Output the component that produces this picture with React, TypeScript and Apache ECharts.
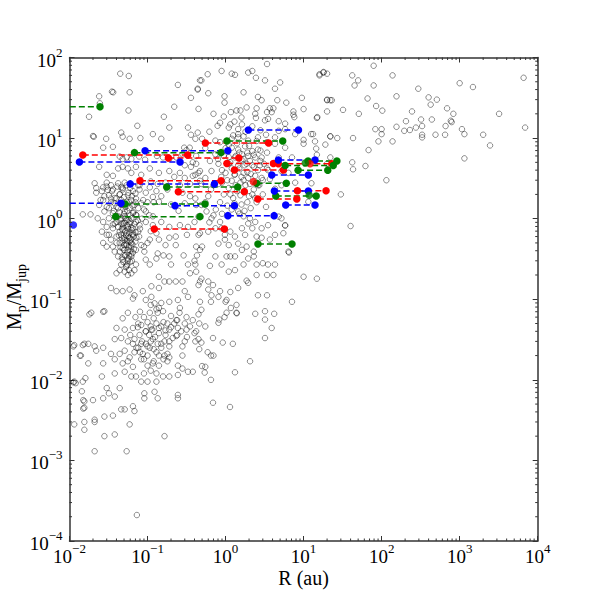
import React, { useEffect, useRef } from "react";
import * as echarts from "echarts";

// Gray background sample: [R (au), Mp/Mjup]
const grayPoints: number[][] = [
  [0.0447,63],[0.0575,59],[0.0363,37],[0.059,37],[0.024,33],[0.0245,27],[0.057,22],[0.0178,18.4],[0.074,14.2],[0.162,18.4],
  [0.046,11.7],[0.0205,10.4],[0.0295,9.8],[0.048,10.4],[0.059,9.8],[0.081,10],[0.117,11.2],[0.15,9.8],[0.19,13.5],[0.22,24.5],
  [0.245,45.7],[0.44,40],[0.36,31.6],[0.33,13.5],[0.44,11.7],[0.36,11],[0.47,52],[0.027,7.6],[0.036,7.8],[0.295,7.6],
  [0.316,7.1],[0.044,5.9],[0.048,5.5],[0.054,5.75],[0.078,5.9],[0.062,5.5],[0.093,5.4],[0.132,6.0],[0.158,5.75],[0.19,5.5],
  [0.234,5.75],[0.347,7.6],[0.28,6.3],[0.024,4.4],[0.030,3.5],[0.036,3.4],[0.042,4.2],[0.048,4.4],[0.056,4.2],[0.071,4.4],
  [0.062,3.7],[0.083,3.5],[0.107,4.2],[0.14,3.7],[0.19,3.9],[0.26,3.7],[0.30,4.6],[0.36,4.4],[0.42,4.8],[0.47,3.9],
  [0.38,3.4],[0.021,2.75],[0.027,2.45],[0.034,2.6],[0.042,2.75],[0.051,2.8],[0.046,2.45],[0.079,2.6],[0.107,2.45],[0.135,2.7],
  [0.17,2.8],[0.26,2.6],[0.35,2.7],[0.47,2.95],[0.020,10.6],[0.035,37.7],
  [0.89,68],[1.2,63],[1.32,61],[1.95,65],[2.2,68],[2.45,56],[3.4,83],[3.2,52],[5.0,49],[0.49,52],
  [0.59,62],[0.44,41],[0.60,36],[0.97,33],[1.7,37],[4.3,41],[9.5,31.6],[16,62],[18,65],[20,29.5],
  [23,29.5],[0.97,27.5],[1.38,22],[1.55,22],[1.17,21],[1.86,24],[2.6,32.4],[2.9,29.5],[4.6,29.5],[2.5,23.4],
  [3.7,23.4],[4.1,23.4],[3.4,21],[3.9,21],[2.4,20],[2.45,17.8],[3.2,16.6],[3.5,17.3],[4.8,16.2],[7.4,21.4],
  [7.6,18.2],[10,22.9],[14.8,17.8],[5.8,15.1],[0.45,23],[0.85,15.5],[0.79,14.2],[1.1,13.5],[1.15,14.8],[1.45,12.9],
  [1.62,14.8],[1.45,11.2],[4.8,12.3],[5.8,12.9],[7.8,11.2],[12.5,11.2],[22,10.5],[0.41,9.8],[0.50,9.8],[0.74,9.3],
  [1.2,9.8],[1.45,10.2],[1.95,9.3],[2.6,10.2],[3.4,8.9],[4.3,10.2],[4.3,8.5],[10,8.5],[19,8.3],[1.2,7.6],
  [1.45,7.2],[1.78,7.9],[2.2,6.9],[2.6,7.2],[1.62,6.3],[1.95,6.0],[1.32,5.75],[1.7,5.5],[2.05,5.2],[2.4,5.75],
  [2.9,5.75],[3.4,6.6],[1.1,4.8],[1.45,4.6],[1.86,4.8],[2.3,4.4],[2.75,4.6],[3.4,4.2],[1.0,3.7],[1.32,3.55],
  [1.7,3.7],[1.95,3.2],[2.4,3.4],[2.9,3.2],[3.7,3.1],[1.2,2.95],[1.55,2.8],[2.05,2.7],[2.6,2.6],[0.74,6.3],
  [0.81,4.8],[0.66,3.9],[0.55,3.2],[0.45,3.7],[0.49,2.7],[0.81,2.7],[0.63,5.2],[0.85,8.9],[0.41,3.5],[5.2,3.9],
  [6.4,3.7],[7.1,5.75],[4.8,5.75],[5.8,7.6],[5.2,2.6],[7.8,2.8],[4.3,2.35],[20,4.8],[22,5.75],
  [0.0186,1.13],[0.0148,1.13],[0.022,2.4],[0.026,2.2],[0.030,2.5],[0.032,1.95],[0.027,1.7],[0.024,1.48],[0.036,2.3],[0.040,1.78],
  [0.044,2.0],[0.048,2.4],[0.056,1.95],[0.065,2.2],[0.071,1.78],[0.079,2.3],[0.032,1.35],[0.028,1.23],[0.036,1.17],[0.042,1.35],
  [0.048,1.48],[0.051,1.23],[0.059,1.35],[0.065,1.17],[0.076,1.35],[0.083,1.55],[0.032,1.01],[0.040,0.91],[0.046,1.01],[0.054,0.96],
  [0.062,1.01],[0.071,0.91],[0.030,0.79],[0.036,0.76],[0.042,0.79],[0.048,0.72],[0.056,0.79],[0.065,0.76],[0.076,0.69],[0.032,0.63],
  [0.040,0.60],[0.046,0.63],[0.051,0.55],[0.059,0.58],[0.044,0.50],[0.054,0.47],[0.062,0.50],[0.048,0.43],[0.027,0.50],[0.030,0.45],
  [0.036,0.45],[0.042,0.34],[0.048,0.31],[0.056,0.30],[0.046,0.27],[0.054,0.26],[0.040,0.21],[0.062,0.21],[0.071,0.41],[0.083,0.47],
  [0.091,0.39],[0.107,0.55],[0.095,0.31],[0.071,0.27],[0.107,0.27],[0.117,0.83],[0.13,0.66],[0.14,0.55],[0.135,0.37],[0.13,0.32],
  [0.16,0.35],[0.17,0.47],[0.19,0.34],[0.20,0.27],[0.23,0.47],[0.29,0.35],[0.33,0.27],[0.42,0.45],[0.40,0.30],[0.42,0.22],
  [0.14,0.19],[0.165,0.166],[0.19,0.166],[0.23,0.166],[0.28,0.166],[0.35,0.21],[0.30,0.126],[0.47,0.166],[0.14,0.138],[0.112,0.145],
  [0.034,0.138],[0.040,0.126],[0.048,0.126],[0.059,0.132],[0.068,0.112],[0.087,0.126],[0.065,0.102],[0.095,0.098],[0.112,0.107],[0.123,0.089],
  [0.14,0.078],[0.19,0.093],[0.245,0.098],[0.33,0.107],[0.26,0.078],[0.019,0.068],[0.028,0.071],[0.056,0.068],[0.107,0.068],[0.42,1.48],
  [0.117,1.86],[0.14,1.62],[0.095,1.23],[0.117,1.07],[0.095,0.91],[0.15,0.91],[0.19,0.79],[0.26,0.83],[0.33,0.79],[0.40,0.91],
  [0.23,0.60],[0.32,0.63],[0.45,0.63],[0.19,0.58],
  [0.031,2.27],[0.038,1.55],[0.046,1.7],[0.054,1.62],[0.034,1.78],[0.042,1.07],[0.048,0.87],[0.059,0.87],[0.044,0.69],[0.054,0.66],
  [0.065,0.63],[0.040,0.50],[0.056,0.41],[0.051,0.35],[0.044,0.39],[0.062,0.34],[0.038,0.39],[0.034,0.55],[0.030,0.63],[0.026,0.69],
  [0.027,0.91],[0.023,1.01],[0.068,1.48],[0.062,1.7],[0.051,1.07],[0.038,0.87],[0.071,1.12],[0.079,0.83],[0.051,0.22],[0.044,0.23],
  [0.056,0.20],[0.068,0.23],
  [0.045,0.95],[0.05,0.88],[0.055,0.82],[0.06,0.92],[0.047,0.75],[0.052,0.70],[0.058,0.66],[0.063,0.72],[0.043,0.62],[0.05,0.58],
  [0.056,0.6],[0.061,0.55],[0.066,0.6],[0.048,0.52],[0.053,0.49],[0.058,0.45],[0.064,0.48],[0.07,0.52],[0.045,0.44],[0.05,0.41],
  [0.055,0.38],[0.06,0.40],[0.067,0.42],[0.052,0.35],[0.057,0.32],[0.062,0.36],[0.049,0.29],[0.055,0.27],[0.06,0.29],[0.053,0.25],
  [0.058,0.23],[0.044,1.2],[0.05,1.15],[0.055,1.25],[0.06,1.1],[0.066,1.2],[0.072,1.1],[0.04,1.4],[0.046,1.5],[0.052,1.4],
  [0.058,1.6],[0.064,1.45],[0.07,1.6],[0.038,1.8],[0.044,2.0],[0.05,1.85],[0.057,2.1],[0.063,1.9],[0.07,2.05],[0.035,2.2],
  [0.041,2.5],[0.048,2.3],[0.054,2.6],[0.06,2.4],[0.076,2.6],[0.034,1.6],[0.037,1.25],[0.04,1.05],[0.036,0.85],[0.075,0.95],
  [0.08,0.75],[0.078,0.6],[0.085,1.0],[0.09,1.3],[0.088,1.7],[0.095,2.1],[0.1,1.6],[0.105,1.1],[0.11,0.7],[0.1,0.5],
  [0.09,0.45],[0.028,1.9],[0.03,1.4],[0.025,1.7],[0.03,2.8],[0.022,2.1],
  [0.048,0.058],[0.076,0.050],[0.083,0.048],[0.135,0.068],[0.158,0.071],[0.234,0.055],[0.257,0.068],[0.316,0.060],[0.38,0.055],[0.45,0.065],
  [0.040,0.044],[0.051,0.042],[0.065,0.044],[0.095,0.040],[0.112,0.042],[0.14,0.044],[0.17,0.036],[0.19,0.042],[0.245,0.044],[0.316,0.042],
  [0.40,0.038],[0.45,0.032],[0.038,0.032],[0.046,0.033],[0.056,0.030],[0.068,0.032],[0.079,0.036],[0.083,0.028],[0.095,0.028],[0.117,0.032],
  [0.15,0.028],[0.19,0.030],[0.234,0.035],[0.30,0.030],[0.0115,0.027],[0.014,0.020],[0.0155,0.028],[0.0174,0.028],[0.021,0.026],[0.022,0.023],
  [0.027,0.025],[0.034,0.021],[0.044,0.021],[0.051,0.023],[0.059,0.019],[0.068,0.022],[0.076,0.025],[0.087,0.021],[0.107,0.025],[0.13,0.022],
  [0.165,0.020],[0.19,0.019],[0.28,0.020],[0.027,0.016],[0.0174,0.016],[0.038,0.018],[0.048,0.016],[0.056,0.017],[0.065,0.0145],[0.083,0.018],
  [0.10,0.015],[0.117,0.016],[0.14,0.015],[0.18,0.017],[0.245,0.015],[0.33,0.0126],[0.38,0.0126],[0.038,0.012],[0.051,0.0126],[0.062,0.011],
  [0.071,0.011],[0.083,0.0095],[0.10,0.0095],[0.13,0.0095],[0.158,0.011],[0.19,0.011],[0.245,0.0115],[0.044,0.0079],[0.091,0.0068],[0.123,0.0071],
  [0.091,0.0059],[0.135,0.0059],[0.245,0.0065],[0.245,0.0059],[0.030,0.0079],[0.032,0.0068],[0.038,0.0062],[0.027,0.0059],[0.020,0.0056],[0.0155,0.0054],
  [0.0155,0.0045],[0.046,0.0043],[0.051,0.0043],[0.065,0.0047],[0.068,0.0041],[0.028,0.0035],[0.036,0.0036],[0.021,0.0032],[0.0155,0.0030],[0.0155,0.0024],
  [0.0115,0.0028],[0.028,0.0020],[0.038,0.0021],[0.059,0.0028],[0.165,0.0020],[0.0148,0.0095],[0.016,0.0105],[0.026,0.011],[0.0115,0.0095],[0.012,0.0091],
  [0.28,0.0138],
  [0.073,0.00021],[0.054,0.0013],[0.021,0.0013],[0.69,0.0052],[1.14,0.0046],[2.06,0.017],[1.32,0.0124],[0.65,0.010],[3.2,0.033],[3.2,0.056],
  [3.9,0.044],[4.2,0.066],[2.4,0.066],[1.39,0.067],[0.92,0.029],[1.24,0.028],[0.70,0.020],[7.1,0.093],[0.0112,0.0093],[0.0112,0.026],
  [0.0136,0.020],[0.0148,0.027],[0.018,0.065],[0.027,0.070],[0.0144,0.0072],[0.015,0.0056],[0.015,0.0044],[0.021,0.0030],
  [0.47,0.093],[0.65,0.093],[1.0,0.093],[1.38,0.085],[0.49,0.074],[1.17,0.078],[1.38,0.068],[1.03,0.068],[0.97,0.060],[0.83,0.056],
  [0.81,0.051],[3.2,0.071],[0.46,0.050],[0.55,0.046],[0.42,0.040],[0.69,0.033],[0.41,0.030],[0.49,0.029],[0.46,0.024],[0.59,0.022],
  [0.65,0.020],[0.50,0.0148],[0.55,0.0145],[0.54,0.0123],
  [0.41,1.78],[0.49,1.48],[0.45,1.06],[0.57,1.23],[0.66,1.01],[0.60,0.69],[0.47,0.66],[0.74,0.76],[0.85,0.91],[0.89,0.76],
  [0.98,0.63],[1.15,0.69],[1.32,0.60],[1.62,0.76],[1.78,0.63],[1.95,0.87],[2.2,0.76],[2.05,1.01],[1.45,1.23],[1.7,1.07],
  [2.4,0.91],[2.9,0.76],[3.5,0.83],[4.8,1.06],[5.2,1.01],[5.8,0.83],[6.4,0.39],[4.3,0.63],[3.7,0.55],[2.9,0.58],
  [2.5,0.60],[0.98,0.55],[0.81,0.49],[1.1,0.47],[1.45,0.49],[1.86,0.45],[1.62,0.41],[2.3,0.39],[2.3,0.34],[1.95,0.32],
  [1.32,0.34],[1.15,0.34],[1.03,0.34],[0.74,0.34],[0.63,0.26],[0.89,0.27],[1.1,0.22],[1.32,0.23],[1.7,0.27],[2.5,0.27],
  [3.0,0.28],[3.5,0.27],[4.3,0.27],[3.4,0.20],[2.5,0.20],[4.1,0.20],[1.86,0.17],[1.95,0.16],[1.45,0.138],[1.15,0.123],
  [0.85,0.126],[0.60,0.132],[0.49,0.18],[0.45,0.15],[0.60,0.166],[0.69,0.15],[0.66,0.112],[0.81,0.107],[1.03,0.098],[2.6,0.112],
  [3.4,0.112],[10,0.19],[14.8,0.18],[5.5,0.66],[0.50,0.45],[0.43,0.35],[0.41,0.27],[0.47,0.41],
  [79,79],[16,60],[18,66],[20,63],[42,60],[50,52],[45,45],[79,45],[138,60],[295,41],
  [1000,48],[1480,43],[6600,56],[155,33],[400,32],[510,30],[66,31],[20,30],[22,29.5],[6.0,27.5],
  [85,25],[425,26],[32,22.4],[20,21.4],[15,18.2],[51,20],[102,21.9],[245,21.4],[690,23.4],[830,20],
  [3200,20],[7.4,19.5],[320,17],[440,17],[205,16.2],[790,15.8],[770,16.4],[155,13.8],[83,12.9],[100,12.9],
  [100,11.2],[195,12.3],[230,12.6],[275,13.5],[330,14.1],[330,11],[330,10.2],[490,11],[650,11],[660,14.1],
  [1070,12.9],[1150,11.2],[2000,11],[6900,13.5],[2450,8.1],[1150,5.6],[91,9.1],[138,9.1],[68,7.1],[43,10],
  [27,10],[22,10.5],[13.2,11.2],[10,9.5],[14,9.1],[14.5,7.4],[42,5],[43,4.1],[62,4.5],[115,3.0],
  [30,2.0],[12.6,2.75],[11.5,1.62],[40,0.81],[14.8,6.2],[5.8,0.82],[6.5,0.38],
  [0.85,1.6],[0.95,2.0],[1.1,2.4],[1.25,1.8],[1.4,2.2],[1.6,1.5],[1.8,2.6],[2.0,1.9],[2.3,2.3],[1.05,3.0],
  [1.3,3.5],[1.5,4.2],[1.7,3.0],[1.9,3.8],[2.2,4.6],[0.9,4.0],[1.15,5.0],[1.35,6.0],[1.6,5.4],[1.9,6.6],
  [2.8,7.0],[1.2,1.3],[1.5,1.15],[1.75,1.25],[2.1,1.35],[0.75,1.3],[0.7,2.6],[2.5,1.6],[3.0,2.0],[3.3,1.4],
  [0.8,5.5],[1.0,7.5],[2.0,8.0],[2.5,9.2],[1.7,10.5],[1.4,8.6],[3.5,4.0],[3.0,3.0],[2.7,2.6],[0.6,1.9],
  [0.65,2.3],[0.55,1.6],[0.7,1.1],[0.62,0.9],[0.9,1.15],[0.88,3.3],[0.95,6.0],[1.1,8.2],[1.25,10.8],[1.8,12],
  [2.2,14],[2.8,12.5],[3.3,11],[1.3,16],[1.6,18],[0.95,18.5],[0.7,20],[0.62,12],[0.55,7.5],[0.42,6.0],
  [0.38,5.0],[0.3,3.2],[0.22,3.3],[0.18,2.3],[0.15,1.9],[0.2,1.5],[0.25,1.25],[0.3,1.55],[0.35,1.9],[0.28,2.1],
  [0.12,1.6],[0.13,2.2],[0.11,2.9],
  [0.09,0.06],[0.1,0.052],[0.11,0.046],[0.12,0.058],[0.13,0.05],[0.095,0.04],[0.105,0.036],[0.115,0.042],[0.125,0.034],[0.14,0.038],
  [0.15,0.046],[0.16,0.052],[0.17,0.041],[0.18,0.05],[0.2,0.045],[0.22,0.05],[0.085,0.03],[0.1,0.026],[0.11,0.03],[0.12,0.024],
  [0.135,0.028],[0.15,0.025],[0.165,0.03],[0.19,0.026],[0.21,0.033],[0.24,0.036],[0.27,0.04],[0.08,0.022],[0.09,0.018],[0.1,0.02],
  [0.12,0.017],[0.14,0.02],[0.16,0.018],[0.18,0.021],[0.075,0.045],[0.07,0.06],[0.08,0.07],[0.13,0.075],[0.2,0.062],[0.24,0.055],
  [0.3,0.05],[0.35,0.046],[0.11,0.085],[0.15,0.09],[0.06,0.036],[0.065,0.028],[0.072,0.025],[0.28,0.026],[0.32,0.034],[0.11,0.013],
  [0.13,0.012],[0.09,0.012],
  [0.052,1.02],[0.057,0.97],[0.049,0.8],[0.062,0.78],[0.053,0.62],[0.059,0.52],[0.047,0.57],[0.064,0.65],[0.057,0.74],[0.046,0.86],
  [0.068,0.86],[0.07,0.68],[0.072,0.58],[0.055,0.53],[0.061,0.45],[0.05,0.47],[0.065,0.38],[0.058,0.35],[0.047,0.33],[0.063,0.3],
  [1.15,2.0],[1.35,2.6],[1.55,1.95],[1.75,2.2],[2.2,2.0],[1.05,1.45],[1.3,1.55],[1.9,1.6],[2.4,1.8],[1.6,3.3],
  [2.1,3.6],[1.2,4.2],[1.75,4.6],[2.6,4.0],[1.5,6.6],[2.3,6.2],[1.1,5.8],[0.9,2.8],[2.8,5.2],[3.1,4.8],
];

// Colored dashed tracks: [Mp/Mjup, R start, R end]; a start at the frame edge has no marker
const greenTracks: number[][] = [
  [24.5,0.0101,0.0246],[6.6,0.068,0.875],[9.2,1.04,5.4],[2.47,0.176,1.43],[1.52,0.0515,0.546],[1.06,0.039,0.47],
  [0.485,2.6,7.1],[5.2,11.4,26.7],[4.57,5.8,24],[4.0,8.5,20.4],[1.91,4.4,14.5],[2.75,2.5,6.0],
];
const blueTracks: number[][] = [
  [1.55,0.0101,0.0457],[5.05,0.0134,0.261],[6.98,0.093,1.07],[12.6,1.96,8.6],[2.70,0.060,0.72],[1.45,0.225,1.30],
  [1.09,1.07,4.19],[5.35,4.75,14.0],[3.48,3.91,11.5],[1.48,5.9,14.0],[2.21,4.22,11.5],
];
const redTracks: number[][] = [
  [6.17,0.0148,0.327],[5.66,0.185,1.48],[8.7,0.551,3.56],[2.96,0.080,0.875],[2.16,0.248,1.74],[0.745,0.122,0.966],
  [4.84,1.04,4.1],[4.8,4.75,23],[2.22,8.33,19.4],[1.75,2.59,8.18],[4.02,1.30,5.51],
];
// Extra single colored points: [R, Mp/Mjup]
const greenSingles: number[][] = [[11.8,1.95],[10.5,4.9]];
const blueSingles: number[][] = [[0.0112,0.835]];
const redSingles: number[][] = [[2.27,2.88],[12.1,4.8]];

const minorMultipliers = [2, 3, 4, 5, 6, 7, 8, 9];
const xDecadeExps = [-2, -1, 0, 1, 2, 3];
const yDecadeExps = [-4, -3, -2, -1, 0, 1];

const FONT = "'Liberation Serif', 'DejaVu Serif', serif";
const GREEN = "#008000";
const BLUE = "#0000ff";
const RED = "#ff0000";
const FRAME = "#333333";

function App() {
  const ref = useRef<HTMLDivElement>(null);

  useEffect(() => {
    if (!ref.current) return;
    const chart = echarts.init(ref.current, null, { renderer: "svg" });

    const fmt = (v: number) => {
      const e = Math.round(Math.log10(v));
      return "{b|10}{s|" + (e < 0 ? "\u2212" + -e : String(e)) + "}";
    };
    const labelRich = {
      b: { fontFamily: FONT, fontSize: 19, lineHeight: 24, verticalAlign: "bottom", color: "#000" },
      s: { fontFamily: FONT, fontSize: 13, lineHeight: 8, verticalAlign: "top", color: "#000" },
    };

    const xMinor = xDecadeExps.flatMap((d) => minorMultipliers.map((m) => [m * Math.pow(10, d), 1]));
    const yMinor = yDecadeExps.flatMap((d) => minorMultipliers.map((m) => [1, m * Math.pow(10, d)]));

    const tickStyle = { stroke: FRAME, lineWidth: 1 };
    const minorLen = 2.5;

    const trackSeries = (tracks: number[][], color: string) =>
      tracks.map((t) => ({
        type: "line",
        silent: true,
        z: 3,
        symbol: "circle",
        symbolSize: 7.5,
        showSymbol: true,
        itemStyle: { color, borderWidth: 0 },
        lineStyle: { color, width: 1.5, type: [6, 3] },
        data: [
          t[1] <= 0.0101 ? { value: [t[1], t[0]], symbol: "none" } : { value: [t[1], t[0]] },
          { value: [t[2], t[0]] },
        ],
      }));

    const singleSeries = (pts: number[][], color: string) => ({
      type: "scatter",
      silent: true,
      z: 4,
      symbol: "circle",
      symbolSize: 7.5,
      itemStyle: { color, borderWidth: 0 },
      data: pts,
    });

    const logAxisBase = {
      type: "log",
      logBase: 10,
      splitLine: { show: false },
      axisLine: { show: true, lineStyle: { color: FRAME, width: 1.5 } },
      axisTick: { show: true, inside: true, length: 5, lineStyle: { color: FRAME, width: 1 } },
      minorTick: { show: false },
    };

    chart.setOption({
      animation: false,
      backgroundColor: "#ffffff",
      grid: { left: 69.5, top: 57.5, right: 60.3, bottom: 61 },
      xAxis: [
        {
          ...logAxisBase,
          position: "bottom",
          min: 0.01,
          max: 10000,
          interval: 1,
          axisLabel: { show: true, margin: 1, formatter: fmt, rich: labelRich, showMinLabel: true, showMaxLabel: true },
        },
        {
          ...logAxisBase,
          position: "top",
          min: 0.01,
          max: 10000,
          interval: 1,
          axisLabel: { show: false },
        },
      ],
      yAxis: [
        {
          ...logAxisBase,
          position: "left",
          min: 0.0001,
          max: 100,
          interval: 1,
          axisLabel: { show: true, margin: 7, formatter: fmt, rich: labelRich, showMinLabel: true, showMaxLabel: true },
        },
        {
          ...logAxisBase,
          position: "right",
          min: 0.0001,
          max: 100,
          interval: 1,
          axisLabel: { show: false },
        },
      ],
      graphic: [
        {
          type: "text",
          x: 303.6,
          y: 578,
          style: {
            text: "R (au)",
            font: "20px " + FONT,
            fill: "#000",
            align: "center",
            verticalAlign: "middle",
          },
        },
        {
          type: "text",
          x: 16,
          y: 297,
          rotation: Math.PI / 2,
          style: {
            text: "{m|M}{sub|p}{m|/M}{sub|jup}",
            align: "center",
            verticalAlign: "middle",
            fill: "#000",
            rich: {
              m: { fontFamily: FONT, fontSize: 20, lineHeight: 24, verticalAlign: "top", fill: "#000" },
              sub: { fontFamily: FONT, fontSize: 14, lineHeight: 12, verticalAlign: "bottom", fill: "#000" },
            },
          },
        },
      ],
      series: [
        {
          type: "scatter",
          silent: true,
          z: 2,
          symbol: "circle",
          symbolSize: 5.5,
          itemStyle: { color: "rgba(0,0,0,0)", borderColor: "rgba(0,0,0,0.55)", borderWidth: 1 },
          data: grayPoints,
        },
        ...trackSeries(redTracks, RED),
        ...trackSeries(greenTracks, GREEN),
        ...trackSeries(blueTracks, BLUE),
        singleSeries(redSingles, RED),
        singleSeries(greenSingles, GREEN),
        singleSeries(blueSingles, BLUE),
        {
          type: "custom",
          silent: true,
          z: 10,
          data: xMinor,
          renderItem: (params: any, api: any) => {
            const cs = params.coordSys;
            const p = api.coord([api.value(0), api.value(1)]);
            const x = p[0];
            const yb = cs.y + cs.height;
            return {
              type: "group",
              children: [
                { type: "line", shape: { x1: x, y1: yb, x2: x, y2: yb - minorLen }, style: tickStyle },
                { type: "line", shape: { x1: x, y1: cs.y, x2: x, y2: cs.y + minorLen }, style: tickStyle },
              ],
            };
          },
        },
        {
          type: "custom",
          silent: true,
          z: 10,
          data: yMinor,
          renderItem: (params: any, api: any) => {
            const cs = params.coordSys;
            const p = api.coord([api.value(0), api.value(1)]);
            const y = p[1];
            const xr = cs.x + cs.width;
            return {
              type: "group",
              children: [
                { type: "line", shape: { x1: cs.x, y1: y, x2: cs.x + minorLen, y2: y }, style: tickStyle },
                { type: "line", shape: { x1: xr, y1: y, x2: xr - minorLen, y2: y }, style: tickStyle },
              ],
            };
          },
        },
      ],
    } as any);

    return () => chart.dispose();
  }, []);

  return (
    <div
      ref={ref}
      style={{ position: "fixed", left: 0, top: 0, width: 598, height: 602, background: "#fff" }}
    />
  );
}

export default App;
